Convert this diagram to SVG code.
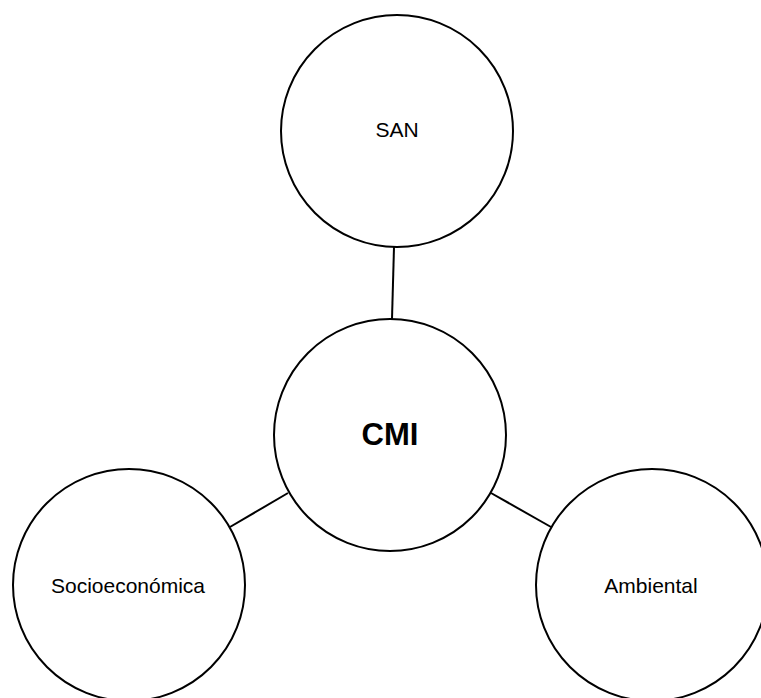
<svg xmlns="http://www.w3.org/2000/svg" width="761" height="698" viewBox="0 0 761 698">
<style>
.node{fill:#fff;stroke:#000;stroke-width:2}
.lbl{font-family:"Liberation Sans",Arial,sans-serif;font-size:21px;fill:#000;text-anchor:middle}
.big{font-size:31px;font-weight:bold}
.conn line{stroke:#000;stroke-width:2}
</style>
<rect width="761" height="698" fill="#fff"/>
<g id="connectors" class="conn">
<line x1="394" y1="247" x2="392" y2="319"/>
<line x1="230" y1="527" x2="288" y2="493"/>
<line x1="491" y1="493" x2="551" y2="527"/>
</g>
<g id="san">
<circle class="node" cx="397" cy="131" r="116"/>
<text class="lbl" x="397" y="137">SAN</text>
</g>
<g id="cmi">
<circle class="node" cx="390" cy="435" r="116"/>
<text class="lbl big" x="390" y="445">CMI</text>
</g>
<g id="socio">
<circle class="node" cx="129" cy="585" r="116"/>
<text class="lbl" x="128" y="593">Socioeconómica</text>
</g>
<g id="ambiental">
<circle class="node" cx="652" cy="585" r="116"/>
<text class="lbl" x="651" y="593">Ambiental</text>
</g>
</svg>
